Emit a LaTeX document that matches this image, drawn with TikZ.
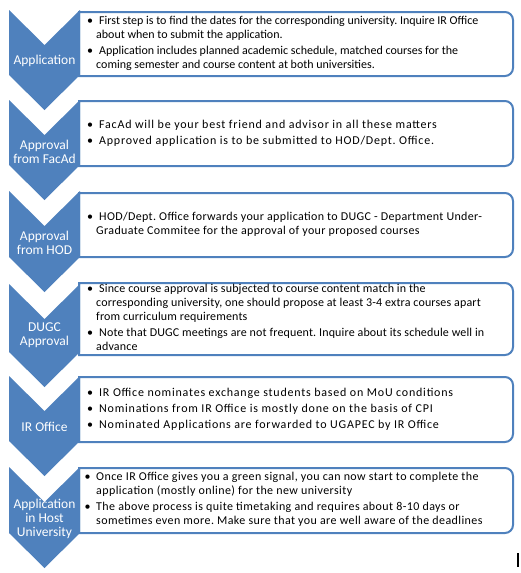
\documentclass[tikz,border=0pt]{standalone}
\usepackage{fontspec}
\setmainfont{Carlito}
\frenchspacing
\definecolor{cblue}{HTML}{4F81BD}
\newcommand{\ibox}[2]{\draw[infobox] (79,#1) -- (505,#1) .. controls (509.42,#1) and (513,{#1+3.58}) .. (513,{#1+8}) -- (513,{#2-8}) .. controls (513,{#2-3.58}) and (509.42,#2) .. (505,#2) -- (79,#2) -- cycle;}
\newcommand{\chev}[2]{\fill[chevshape] (9,#1) -- (44.5,{#1+35}) -- (80,#1) -- (80,#2) -- (44.5,{#2+35}) -- (9,#2) -- cycle;}
\newcommand{\fs}{\hspace{3pt}}
\newcommand{\ls}[1]{\addfontfeature{LetterSpace=#1}}
\begin{document}
\begin{tikzpicture}[x=1pt,y=-1pt,
  chevshape/.style={fill=cblue},
  infobox/.style={draw=cblue, line width=2pt, fill=white},
  clabel/.style={text=white, font=\fontsize{13.5}{14}\selectfont, align=center, inner sep=0},
  btext/.style={anchor=west, inner sep=0, font=\fontsize{12}{14}\selectfont}]
\useasboundingbox (0,0) rectangle (520,573);
% boxes
\ibox{12}{76}
\ibox{101}{166}
\ibox{193}{257}
\ibox{283}{355}
\ibox{377}{442}
\ibox{468}{533}
% chevrons
\chev{10}{75}
\chev{100}{165}
\chev{191}{257}
\chev{284}{352}
\chev{376}{441}
\chev{467}{533}
% chevron labels
\node[clabel] (c1) at (44.5,61) {Application};
\node[clabel] (c2) at (44.5,152) {Approval\\from FacAd};
\node[clabel] (c3) at (44.5,243) {Approval\\from HOD};
\node[clabel] (c4) at (44.5,335.5) {DUGC\\Approval};
\node[clabel] (c5) at (44.5,426.5) {IR Office};
\node[clabel] (c6) at (44.5,518.5) {Application\\in Host\\University};
% box texts
\node[btext] (t1) at (87,44) {\begin{tabular}{@{}p{9pt}@{}l@{}}
• & \fs First step is to find the dates for the corresponding university. Inquire IR Office\\
 & about when to submit the application.\\[2pt]
• & \fs Application includes planned academic schedule, matched courses for the\\
 & coming semester and course content at both universities.
\end{tabular}};
\node[btext] (t2) at (87,134) {\ls{6.5}\begin{tabular}{@{}p{9pt}@{}l@{}}
• & \fs FacAd will be your best friend and advisor in all these matters\\[2pt]
• & \fs Approved application is to be submitted to HOD/Dept. Office.
\end{tabular}};
\node[btext] (t3) at (87,225) {\ls{3}\begin{tabular}{@{}p{9pt}@{}l@{}}
• & \fs HOD/Dept. Office forwards your application to DUGC - Department Under-\\
 & Graduate Commitee for the approval of your proposed courses
\end{tabular}};
\node[btext] (t4) at (87,318.5) {\ls{1.3}\begin{tabular}{@{}p{9pt}@{}l@{}}
• & \fs Since course approval is subjected to course content match in the\\
 & corresponding university, one should propose at least 3-4 extra courses apart\\
 & from curriculum requirements\\[2pt]
• & \fs Note that DUGC meetings are not frequent. Inquire about its schedule well in\\
 & advance
\end{tabular}};
\node[btext] (t5) at (87,410) {\ls{6.5}\begin{tabular}{@{}p{9pt}@{}l@{}}
• & \fs IR Office nominates exchange students based on MoU conditions\\[2pt]
• & \fs Nominations from IR Office is mostly done on the basis of CPI\\[2pt]
• & \fs Nominated Applications are forwarded to UGAPEC by IR Office
\end{tabular}};
\node[btext] (t6) at (84.5,500) {\ls{3.4}\begin{tabular}{@{}p{11.5pt}@{}l@{}}
• & Once IR Office gives you a green signal, you can now start to complete the\\
 & application (mostly online) for the new university\\[2pt]
• & The above process is quite timetaking and requires about 8-10 days or\\
 & sometimes even more. Make sure that you are well aware of the deadlines
\end{tabular}};
% cursor mark
\fill[black] (517,553) rectangle (519,567);
\end{tikzpicture}
\end{document}
